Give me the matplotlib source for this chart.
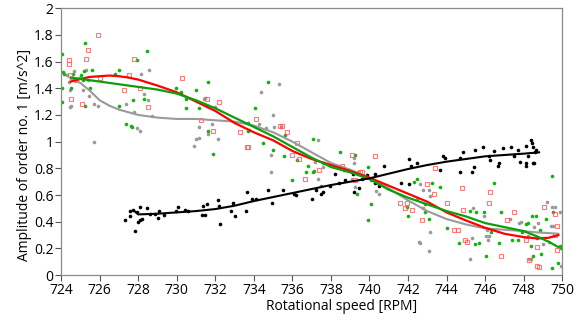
import matplotlib
matplotlib.use("Agg")
import matplotlib.pyplot as plt

plt.rcParams['font.family'] = ['Open Sans', 'DejaVu Sans']

# scatter data
black_x = [727.29, 727.55, 727.55, 727.72, 727.81, 727.93, 728.07, 727.98, 728.10, 728.22,
           728.45, 728.62, 728.85, 729.07, 729.05, 729.35, 729.95, 730.06, 730.44, 730.60,
           731.30, 731.44, 731.36, 731.56, 732.14, 732.22, 732.17, 732.83, 732.90, 733.00,
           733.59, 733.64, 733.90, 734.09, 734.73, 734.92, 735.51, 736.06, 736.18, 737.02,
           737.24, 737.59, 737.97, 738.40, 738.75, 739.21, 739.63, 740.13, 740.30, 740.48,
           740.74, 741.65, 742.03, 742.03, 742.16, 742.47, 743.68, 743.80, 743.90, 744.72,
           744.84, 744.68, 745.33, 745.44, 745.50, 745.90, 746.20, 746.24, 746.45, 746.65,
           746.70, 746.93, 747.35, 747.49, 747.70, 747.83, 748.10, 748.10, 748.14, 748.20,
           748.40, 748.45, 748.50, 748.50, 748.56, 748.60, 748.65, 738.20, 739.14, 739.45,
           739.87, 740.30, 737.50]
black_y = [0.41, 0.48, 0.44, 0.49, 0.33, 0.47, 0.51, 0.40, 0.41, 0.42,
           0.50, 0.46, 0.46, 0.48, 0.43, 0.45, 0.48, 0.51, 0.49, 0.48,
           0.45, 0.45, 0.52, 0.53, 0.56, 0.38, 0.52, 0.48, 0.54, 0.44,
           0.48, 0.62, 0.57, 0.57, 0.64, 0.54, 0.64, 0.61, 0.60, 0.57,
           0.64, 0.62, 0.67, 0.69, 0.71, 0.62, 0.72, 0.72, 0.69, 0.67,
           0.82, 0.69, 0.68, 0.87, 0.82, 0.84, 0.79, 0.89, 0.88, 0.77,
           0.92, 0.88, 0.77, 0.81, 0.94, 0.96, 0.89, 0.86, 0.93, 0.82,
           0.84, 0.95, 0.96, 0.89, 0.94, 0.85, 0.82, 0.84, 0.97, 0.89,
           1.01, 0.99, 0.96, 0.84, 0.84, 0.92, 0.94, 0.76, 0.76, 0.65,
           0.75, 0.76, 0.61]

green_x = [724.03, 725.26, 724.08, 724.13, 725.20, 725.60, 724.05, 724.07, 724.50, 724.64,
           724.69, 725.25, 725.05, 725.14, 725.50, 726.82, 727.00, 726.98, 727.36, 727.65,
           727.70, 727.93, 728.48, 727.75, 728.30, 729.95, 730.20, 730.50, 731.00, 731.63,
           730.47, 731.18, 731.55, 731.62, 731.90, 733.70, 733.76, 734.07, 734.76, 734.50,
           735.00, 735.60, 735.58, 736.24, 735.98, 736.70, 736.80, 737.07, 737.10, 737.07,
           737.50, 738.49, 739.26, 738.70, 739.90, 740.10, 740.08, 739.90, 741.95, 742.30,
           742.47, 741.98, 742.87, 742.87, 743.07, 743.24, 744.00, 745.20, 745.55, 745.50,
           745.96, 746.05, 746.45, 746.33, 746.80, 747.40, 747.70, 748.20, 748.65, 749.16,
           749.47, 749.50, 748.50, 748.90, 749.45, 749.86, 749.80, 748.70, 749.95, 743.65,
           744.64, 745.68, 746.72, 748.10, 748.44, 748.86, 747.92, 748.40, 733.72, 739.33]
green_y = [1.66, 1.74, 1.52, 1.51, 1.53, 1.54, 1.30, 1.40, 1.40, 1.51,
           1.47, 1.27, 1.50, 1.46, 1.40, 1.51, 1.54, 1.27, 1.13, 1.12,
           1.11, 1.61, 1.68, 1.31, 1.32, 1.40, 1.37, 1.32, 1.39, 1.45,
           1.25, 1.25, 1.27, 1.08, 0.91, 1.08, 1.09, 1.25, 1.45, 0.99,
           0.94, 1.05, 0.89, 0.86, 0.71, 0.77, 0.82, 1.02, 0.78, 0.77,
           0.67, 0.92, 0.90, 0.79, 0.81, 0.71, 0.53, 0.41, 0.51, 0.70,
           0.72, 0.44, 0.53, 0.47, 0.42, 0.69, 0.35, 0.48, 0.47, 0.23,
           0.47, 0.14, 0.69, 0.32, 0.47, 0.26, 0.26, 0.39, 0.44, 0.42,
           0.74, 0.47, 0.14, 0.16, 0.05, 0.22, 0.09, 0.28, 0.20, 0.66,
           0.24, 0.24, 0.24, 0.38, 0.44, 0.34, 0.32, 0.22, 1.14, 0.61]

gray_x = [724.43, 724.48, 724.47, 724.50, 724.69, 725.30, 725.37, 725.47, 725.73, 725.90,
          725.70, 725.16, 724.30, 724.95, 727.37, 727.80, 728.10, 727.95, 728.14, 728.57,
          728.53, 728.70, 728.30, 730.90, 731.13, 731.17, 731.46, 731.60, 731.00, 731.83,
          732.00, 731.40, 732.14, 734.38, 735.28, 734.99, 734.89, 734.63, 734.28, 735.06,
          735.40, 734.89, 737.31, 737.60, 737.19, 739.18, 739.40, 739.10, 739.26, 740.35,
          740.48, 743.07, 742.80, 743.16, 742.47, 742.76, 742.57, 743.07, 743.16, 745.24,
          746.10, 746.20, 747.84, 748.56, 748.26, 749.20, 749.48, 749.90, 749.40, 749.96,
          749.00, 748.75, 742.60, 742.60, 745.38, 745.93, 746.07, 746.14, 747.31, 747.74,
          749.65, 749.53, 749.30, 748.20, 745.33, 748.40, 737.35, 737.59, 739.18]
gray_y = [1.45, 1.39, 1.26, 1.27, 1.53, 1.54, 1.46, 1.34, 1.28, 1.27,
          1.00, 1.39, 1.50, 1.48, 1.28, 1.22, 1.08, 1.10, 1.51, 1.54,
          1.31, 1.19, 1.36, 0.97, 1.11, 1.03, 1.33, 1.06, 1.02, 1.13,
          1.26, 1.32, 1.02, 1.37, 1.43, 1.20, 0.90, 1.10, 1.13, 1.11,
          1.11, 0.77, 1.01, 0.84, 0.85, 0.88, 0.77, 0.72, 0.66, 0.63,
          0.61, 0.64, 0.64, 0.59, 0.57, 0.50, 0.25, 0.18, 0.32, 0.12,
          0.34, 0.29, 0.40, 0.36, 0.12, 0.55, 0.51, 0.47, 0.37, 0.07,
          0.23, 0.39, 0.68, 0.24, 0.50, 0.44, 0.29, 0.26, 0.42, 0.39,
          0.51, 0.37, 0.25, 0.29, 0.28, 0.12, 0.72, 0.81, 0.84]

red_x = [724.40, 724.40, 725.90, 725.40, 725.30, 724.45, 724.78, 724.50, 725.07, 726.00,
         727.80, 727.50, 727.24, 728.10, 728.50, 730.27, 731.56, 732.20, 731.25, 731.87,
         733.26, 733.70, 734.13, 735.46, 735.70, 736.24, 736.36, 736.67, 735.98, 738.58,
         739.10, 739.52, 739.26, 740.30, 741.60, 741.86, 741.95, 742.20, 742.73, 742.98,
         743.42, 743.33, 744.37, 744.60, 744.80, 744.86, 744.95, 745.06, 746.27, 746.80,
         747.15, 747.49, 748.26, 748.68, 748.80, 749.04, 749.65, 749.74, 749.74, 748.70,
         744.00, 746.20, 748.10, 749.60, 737.36, 739.60, 735.37, 733.64]
red_y = [1.61, 1.58, 1.80, 1.69, 1.62, 1.50, 1.46, 1.32, 1.28, 1.48,
         1.62, 1.50, 1.39, 1.40, 1.26, 1.48, 1.32, 1.30, 1.16, 1.08,
         1.07, 0.96, 1.17, 1.12, 1.07, 0.99, 0.87, 0.72, 0.90, 0.82,
         0.90, 0.77, 0.71, 0.89, 0.54, 0.50, 0.54, 0.49, 0.41, 0.68,
         0.80, 0.61, 0.34, 0.34, 0.65, 0.49, 0.26, 0.25, 0.62, 0.14,
         0.41, 0.47, 0.11, 0.21, 0.06, 0.51, 0.46, 0.37, 0.19, 0.07,
         0.54, 0.54, 0.26, 0.30, 0.79, 0.77, 1.12, 0.96]

# fitted curves
black_fx = [727.8, 728, 729, 730, 731, 732, 733, 734, 735, 736, 737, 738, 739, 740,
            741, 742, 743, 744, 745, 746, 747, 748, 748.8]
black_fy = [0.48, 0.455, 0.46, 0.47, 0.48, 0.495, 0.52, 0.555, 0.585, 0.615, 0.645, 0.675,
            0.70, 0.725, 0.76, 0.795, 0.825, 0.85, 0.87, 0.89, 0.90, 0.91, 0.92]

fit_x = [724.5, 725, 725.5, 726, 726.5, 727, 727.5, 728, 729, 730, 731, 732, 733, 734,
         735, 736, 737, 738, 739, 740, 741, 742, 743, 744, 745, 746, 747, 748, 748.7,
         749.3, 749.8]
green_fy = [1.48, 1.47, 1.46, 1.45, 1.44, 1.43, 1.42, 1.41, 1.39, 1.36, 1.31, 1.25, 1.18,
            1.11, 1.04, 0.96, 0.88, 0.81, 0.77, 0.72, 0.64, 0.58, 0.53, 0.48, 0.44, 0.39,
            0.36, 0.33, 0.29, 0.25, 0.21]
red_fy = [1.45, 1.47, 1.485, 1.49, 1.495, 1.49, 1.48, 1.465, 1.42, 1.37, 1.30, 1.23,
          1.14, 1.07, 1.01, 0.93, 0.87, 0.825, 0.78, 0.73, 0.67, 0.61, 0.55, 0.47, 0.41,
          0.355, 0.31, 0.285, 0.275, 0.28, 0.30]
gray_fy = [1.47, 1.44, 1.38, 1.31, 1.27, 1.24, 1.22, 1.20, 1.18, 1.17, 1.17, 1.16, 1.15,
           1.12, 1.07, 1.00, 0.92, 0.84, 0.79, 0.73, 0.65, 0.56, 0.48, 0.42, 0.38, 0.35,
           0.34, 0.33, 0.32, 0.315, 0.31]

green = '#0fb40f'
red = '#ff0000'
gray = '#9a9a9a'

fig = plt.figure(figsize=(5.82, 3.26), dpi=100)
ax = fig.add_axes([0.105, 0.156, 0.861, 0.819])

ax.plot(gray_x, gray_y, 'o', color=gray, ms=2.6, mew=0, zorder=2)
ax.plot(green_x, green_y, 'o', color=green, ms=2.6, mew=0, zorder=2)
ax.plot(red_x, red_y, 's', mfc='none', mec='#ff5a5a', ms=3.4, mew=0.8, alpha=0.8, zorder=2)
ax.plot(black_x, black_y, 'o', color='black', ms=2.6, mew=0, zorder=2)

ax.plot(fit_x, gray_fy, color=gray, lw=1.5, zorder=3)
ax.plot(fit_x, red_fy, color=red, lw=1.6, zorder=3)
ax.plot(fit_x, green_fy, color='#0aa00a', lw=1.6, zorder=3)
ax.plot(black_fx, black_fy, color='black', lw=1.5, zorder=3)

ax.set_xlim(724, 750)
ax.set_ylim(0, 2)
ax.set_xticks(range(724, 751, 2))
yt = [i / 5 for i in range(11)]
ax.set_yticks(yt)
ax.set_yticklabels(['0', '0.2', '0.4', '0.6', '0.8', '1', '1.2', '1.4', '1.6', '1.8', '2'])
ax.tick_params(labelsize=10, length=4, width=0.8, color='#555555', pad=1.5)
for s in ax.spines.values():
    s.set_color('#8a8a8a')
    s.set_linewidth(0.9)

ax.set_xlabel('Rotational speed [RPM]', fontsize=10)
ax.set_ylabel('Amplitude of order no. 1 [m/s^2]', fontsize=10)
ax.xaxis.set_label_coords(0.56, -0.09)
ax.yaxis.set_label_coords(-0.058, 0.45)

fig.savefig('out.png', dpi=100)
